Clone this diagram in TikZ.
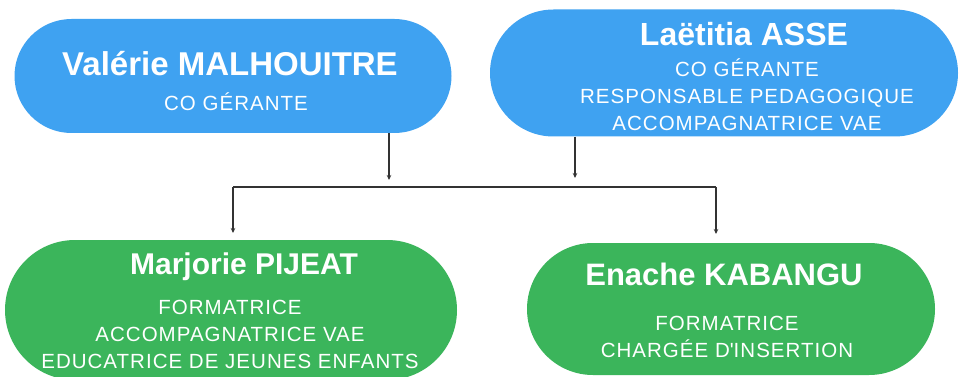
\documentclass[tikz,border=0pt]{standalone}
\usepackage{fontspec}
\setmainfont{Liberation Sans}
\usetikzlibrary{shapes.misc,arrows.meta}
\definecolor{pillblue}{HTML}{3FA2F1}
\definecolor{pillgreen}{HTML}{3BB55B}
\begin{document}
\begin{tikzpicture}[x=1pt, y=-1pt, every text node part/.style={align=center}]
        \tikzset{
          bluepill/.style={rounded rectangle, fill=pillblue, inner sep=0pt},
          greenpill/.style={rounded rectangle, fill=pillgreen, inner sep=0pt},
          namestyle/.style={text=white, anchor=base, inner sep=0pt,
            font=\bfseries\fontsize{#1}{#1}\selectfont},
          namestyle/.default=32,
          rolestyle/.style={text=white, anchor=base, inner sep=0pt,
            font=\addfontfeature{LetterSpace=5}\fontsize{20.5}{27}\selectfont},
          link/.style={draw=black!80, line width=1.2pt},
          linkarrow/.style={link, -{Stealth[length=5pt,width=4.5pt]}},
        }
        \clip (0,0) rectangle (962,377);
        \fill[white] (0,0) rectangle (962,377);
        % co-gerantes
        \node [bluepill, minimum width=437pt, minimum height=114pt] (valerie) at (233,76) {};
        \node [bluepill, minimum width=468pt, minimum height=127pt] (laetitia) at (724,73) {};
        \node [namestyle=33] (valerie-name) at (230,76) {Valérie MALHOUITRE};
        \node [rolestyle] (valerie-role) at (236,111) {CO GÉRANTE};
        \node [namestyle=32] (laetitia-name) at (744,46) {Laëtitia ASSE};
        % base = last line of the text
        \node [rolestyle] (laetitia-role) at (747,131) {CO GÉRANTE\\ RESPONSABLE PEDAGOGIQUE\\ ACCOMPAGNATRICE VAE};
        % equipe
        \node [greenpill, minimum width=452pt, minimum height=140pt] (marjorie) at (231,310) {};
        \node [greenpill, minimum width=408pt, minimum height=132pt] (enache) at (731,309) {};
        \node [namestyle=30] (marjorie-name) at (244,274) {Marjorie PIJEAT};
        \node [rolestyle] (marjorie-role) at (230,368) {FORMATRICE\\ ACCOMPAGNATRICE VAE\\ EDUCATRICE DE JEUNES ENFANTS};
        \node [namestyle=31] (enache-name) at (724,285) {Enache KABANGU};
        \node [rolestyle] (enache-role) at (727,357) {FORMATRICE\\ CHARGÉE D\textquotesingle INSERTION};
        % liens
        \coordinate (tipV) at (389,180);
        \coordinate (tipL) at (575,178);
        \coordinate (busL) at (233,187);
        \coordinate (busR) at (716,187);
        \coordinate (tipM) at (233,233);
        \coordinate (tipE) at (716,234);
        \draw [linkarrow] (valerie.south -| tipV) -- (tipV);
        \draw [linkarrow] (laetitia.south -| tipL) -- (tipL);
        \draw [link] (busL) -- (busR);
        \draw [linkarrow] (busL) -- (tipM);
        \draw [linkarrow] (busR) -- (tipE);
\end{tikzpicture}
\end{document}
